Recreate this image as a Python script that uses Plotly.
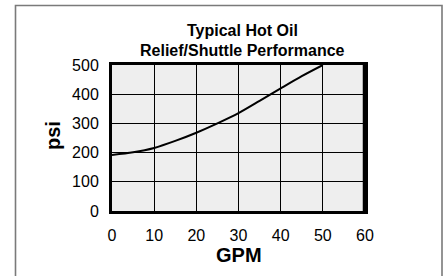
import plotly.graph_objects as go

gpm = [0, 5, 10, 15, 20, 25, 30, 35, 40, 45, 50]
psi = [192, 201, 216, 240, 268, 300, 335, 377, 420, 462, 500]

x_ticks = [0, 10, 20, 30, 40, 50, 60]
y_ticks = [0, 100, 200, 300, 400, 500]

W, H = 447, 276
L, R, T, B = 112, 82, 65, 65
pw, ph = W - L - R, H - T - B

def px(x):
    return (x - L) / pw

def py(y):
    return (H - B - y) / ph

FONT = "Liberation Sans, Arial, sans-serif"

fig = go.Figure()
fig.add_trace(go.Scatter(x=gpm, y=psi, mode="lines",
                         line=dict(color="black", width=2, shape="spline", smoothing=0.8),
                         hoverinfo="skip", showlegend=False, cliponaxis=True))

axis_common = dict(showgrid=True, gridcolor="black", gridwidth=1,
                   showline=True, linecolor="black", linewidth=3, mirror=True,
                   zeroline=False, ticks="outside", tickcolor="rgba(0,0,0,0)",
                   tickfont=dict(family=FONT, size=16, color="black"))

fig.update_xaxes(range=[0, 60], tickvals=x_ticks, ticklen=8, **axis_common)
fig.update_yaxes(range=[0, 500], tickvals=y_ticks, ticklen=7, **axis_common)

fig.update_layout(
    width=W, height=H,
    margin=dict(l=L, r=R, t=T, b=B, autoexpand=False),
    paper_bgcolor="white", plot_bgcolor="#eeeeee",
    showlegend=False,
    shapes=[
        dict(type="rect", xref="paper", yref="paper",
             x0=px(15.5), x1=px(442), y0=py(285), y1=py(5.5),
             line=dict(color="#7a7a7a", width=1.6), layer="below"),
        dict(type="line", xref="paper", yref="paper",
             x0=1, x1=1, y0=0, y1=1,
             line=dict(color="black", width=4.5)),
    ],
    annotations=[
        dict(text="<b>Typical Hot Oil</b>", xref="paper", yref="paper",
             x=px(242), y=py(31), showarrow=False, xanchor="center", yanchor="middle",
             font=dict(family=FONT, size=16, color="black")),
        dict(text="<b>Relief/Shuttle Performance</b>", xref="paper", yref="paper",
             x=px(242), y=py(50), showarrow=False, xanchor="center", yanchor="middle",
             font=dict(family=FONT, size=16, color="black")),
        dict(text="<b>GPM</b>", xref="paper", yref="paper",
             x=px(238.5), y=py(255), showarrow=False, xanchor="center", yanchor="middle",
             font=dict(family=FONT, size=20, color="black")),
        dict(text="<b>psi</b>", xref="paper", yref="paper", textangle=-90,
             x=px(53), y=py(136), showarrow=False, xanchor="center", yanchor="middle",
             font=dict(family=FONT, size=20, color="black")),
    ],
)

fig.write_html("out.html", config={"displayModeBar": False},
               post_script="document.body.style.margin='0px';")
